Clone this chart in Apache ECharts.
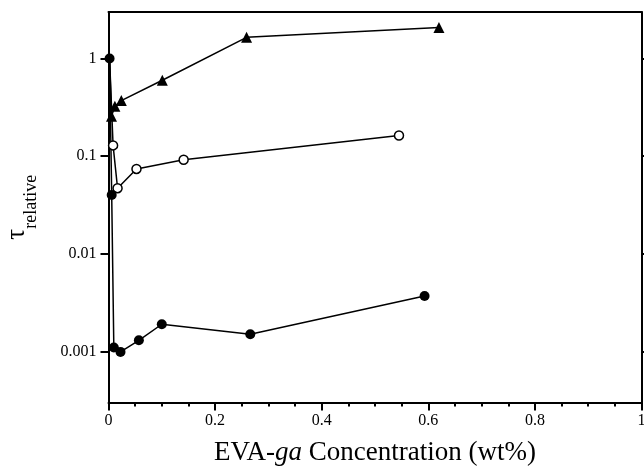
<!DOCTYPE html>
<html>
<head>
<meta charset="utf-8">
<script src="https://cdn.jsdelivr.net/npm/echarts@6/dist/echarts.min.js"></script>
<style>
  html, body { margin: 0; padding: 0; background: #fff; }
  #main { width: 644px; height: 468px; }
</style>
</head>
<body>
<div id="main"></div>
<script>
// EVA-ga concentration (wt%) and relative tau
var triX = [0.002, 0.0056, 0.012, 0.024, 0.101, 0.259, 0.62];
var triY = [1, 0.256, 0.325, 0.371, 0.60, 1.65, 2.08];

var openX = [0.002, 0.0086, 0.017, 0.0525, 0.141, 0.545];
var openY = [1, 0.129, 0.047, 0.074, 0.092, 0.163];

var fillX = [0.002, 0.006, 0.010, 0.0225, 0.057, 0.100, 0.266, 0.593];
var fillY = [1, 0.040, 0.0011, 0.00099, 0.0013, 0.0019, 0.0015, 0.0037];

var yTicks = [0.001, 0.01, 0.1, 1];

var font = "Liberation Serif";

function pairs(xs, ys, hideFirst) {
  return xs.map(function (x, i) {
    var item = { value: [x, ys[i]] };
    if (hideFirst && i === 0) item.symbol = "none";
    return item;
  });
}

var chart = echarts.init(document.getElementById("main"));

var lineStyle = { color: "#000", width: 1.5 };
var axisLine = { show: true, onZero: false, lineStyle: { color: "#000", width: 2 } };

chart.setOption({
  animation: false,
  grid: { left: 108.5, top: 12, right: 2.5, bottom: 65.5, outerBoundsMode: "none", containLabel: false },
  xAxis: [
    {
      type: "value",
      min: 0,
      max: 1,
      interval: 0.2,
      name: "{n|EVA-}{i|ga}{n| Concentration (wt%)}",
      nameLocation: "middle",
      nameGap: 37,
      nameTextStyle: {
        rich: {
          n: { fontFamily: font, fontSize: 27, color: "#000" },
          i: { fontFamily: font, fontSize: 27, color: "#000", fontStyle: "italic" }
        }
      },
      axisLine: axisLine,
      axisTick: { length: 8, lineStyle: { color: "#000", width: 2 } },
      minorTick: { show: true, splitNumber: 4, length: 4, lineStyle: { color: "#000", width: 2 } },
      axisLabel: { fontFamily: font, fontSize: 16, color: "#000", margin: 10 },
      splitLine: { show: false }
    },
    {
      type: "value",
      position: "top",
      min: 0,
      max: 1,
      axisLine: axisLine,
      axisTick: { show: false },
      axisLabel: { show: false },
      splitLine: { show: false }
    }
  ],
  yAxis: [
    {
      type: "log",
      logBase: 10,
      min: 0.0003,
      max: 3,
      name: "{t|τ}{s|relative}",
      nameLocation: "middle",
      nameGap: 64,
      nameTextStyle: {
        rich: {
          t: { fontFamily: font, fontSize: 27, color: "#000", padding: [0, 0, 14, 0] },
          s: { fontFamily: font, fontSize: 18, color: "#000", padding: [14, 0, 0, 0] }
        }
      },
      axisLine: axisLine,
      axisTick: { length: 8, customValues: yTicks, lineStyle: { color: "#000", width: 2 } },
      axisLabel: { fontFamily: font, fontSize: 16, color: "#000", margin: 12, customValues: yTicks },
      splitLine: { show: false }
    },
    {
      type: "log",
      logBase: 10,
      min: 0.0003,
      max: 3,
      position: "right",
      axisLine: axisLine,
      axisTick: { length: 8, customValues: yTicks, lineStyle: { color: "#000", width: 2 } },
      axisLabel: { show: false },
      splitLine: { show: false }
    }
  ],
  series: [
    {
      type: "line",
      data: pairs(triX, triY, true),
      symbol: "triangle",
      symbolSize: 11,
      itemStyle: { color: "#000" },
      lineStyle: lineStyle
    },
    {
      type: "line",
      data: pairs(openX, openY, true),
      symbol: "circle",
      symbolSize: 9,
      itemStyle: { color: "#fff", borderColor: "#000", borderWidth: 1.5 },
      lineStyle: lineStyle
    },
    {
      type: "line",
      data: pairs(fillX, fillY, false),
      symbol: "circle",
      symbolSize: 10,
      itemStyle: { color: "#000" },
      lineStyle: lineStyle
    }
  ]
});
</script>
</body>
</html>
